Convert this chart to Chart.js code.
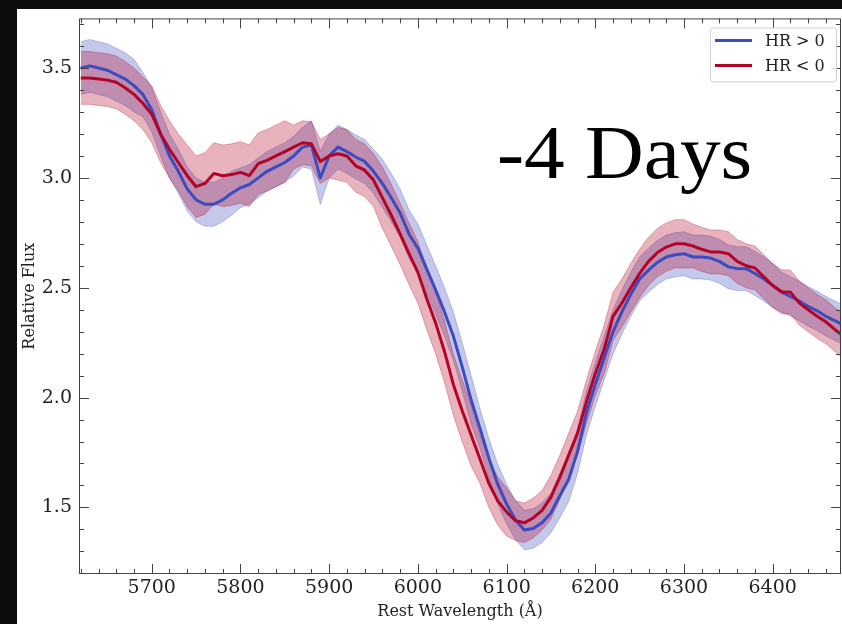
<!DOCTYPE html>
<html>
<head>
<meta charset="utf-8">
<script src="https://cdn.jsdelivr.net/npm/chart.js@4.4.1/dist/chart.umd.min.js"></script>
<style>
  html, body { margin: 0; padding: 0; background: #0c0c0c; }
  #wrap { position: relative; width: 842px; height: 624px; }
</style>
</head>
<body>
<div id="wrap"><canvas id="spec"></canvas></div>
<script>
const wavelength = [
  5620,5630,5640,5650,5660,5670,5680,5690,5700,5710,
  5720,5730,5740,5750,5760,5770,5780,5790,5800,5810,
  5820,5830,5840,5850,5860,5870,5880,5890,5900,5910,
  5920,5930,5940,5950,5960,5970,5980,5990,6000,6010,
  6020,6030,6040,6050,6060,6070,6080,6090,6100,6110,
  6120,6130,6140,6150,6160,6170,6180,6190,6200,6210,
  6220,6230,6240,6250,6260,6270,6280,6290,6300,6310,
  6320,6330,6340,6350,6360,6370,6380,6390,6400,6410,
  6420,6430,6440,6450,6460,6470,6480
];

// HR > 0 : mean spectrum and its band
const hrPosMean = [
  3.50,3.51,3.50,3.49,3.47,3.45,3.42,3.38,3.31,3.20,
  3.10,3.03,2.95,2.90,2.88,2.88,2.90,2.93,2.955,2.97,
  3.00,3.03,3.05,3.07,3.10,3.14,3.15,3.00,3.10,3.14,
  3.12,3.095,3.075,3.03,2.975,2.91,2.84,2.745,2.68,2.585,
  2.49,2.39,2.28,2.14,1.99,1.86,1.725,1.606,1.516,1.443,
  1.397,1.404,1.43,1.475,1.553,1.627,1.755,1.93,2.06,2.18,
  2.30,2.39,2.47,2.54,2.58,2.615,2.64,2.65,2.655,2.64,
  2.64,2.635,2.62,2.595,2.587,2.587,2.565,2.54,2.51,2.48,
  2.46,2.44,2.415,2.395,2.37,2.35,2.33
];
const hrPosUpper = [
  3.62,3.63,3.62,3.61,3.59,3.57,3.54,3.48,3.41,3.30,
  3.20,3.13,3.05,3.00,2.98,2.98,3.00,3.03,3.045,3.06,
  3.09,3.12,3.14,3.16,3.19,3.23,3.26,3.12,3.20,3.24,
  3.22,3.195,3.175,3.13,3.085,3.02,2.95,2.855,2.79,2.695,
  2.60,2.50,2.39,2.25,2.10,1.95,1.815,1.696,1.606,1.533,
  1.487,1.494,1.52,1.565,1.653,1.727,1.855,2.03,2.16,2.28,
  2.40,2.49,2.57,2.64,2.68,2.715,2.74,2.75,2.755,2.74,
  2.74,2.735,2.72,2.695,2.687,2.687,2.665,2.64,2.61,2.57,
  2.55,2.53,2.505,2.485,2.46,2.44,2.42
];
const hrPosLower = [
  3.38,3.39,3.38,3.37,3.35,3.33,3.30,3.28,3.21,3.10,
  3.00,2.93,2.85,2.80,2.78,2.78,2.80,2.83,2.865,2.88,
  2.91,2.94,2.96,2.98,3.01,3.05,3.04,2.88,3.00,3.04,
  3.02,2.995,2.975,2.93,2.865,2.80,2.73,2.635,2.57,2.475,
  2.38,2.28,2.17,2.03,1.88,1.77,1.635,1.516,1.426,1.353,
  1.307,1.314,1.34,1.385,1.453,1.527,1.655,1.83,1.96,2.08,
  2.20,2.29,2.37,2.44,2.48,2.515,2.54,2.55,2.555,2.54,
  2.54,2.535,2.52,2.495,2.487,2.487,2.465,2.44,2.41,2.39,
  2.37,2.35,2.325,2.305,2.28,2.26,2.24
];

// HR < 0 : mean spectrum and its band
const hrNegMean = [
  3.455,3.455,3.45,3.445,3.435,3.41,3.38,3.34,3.29,3.20,
  3.13,3.07,3.01,2.96,2.975,3.02,3.01,3.015,3.025,3.01,
  3.065,3.08,3.10,3.12,3.14,3.16,3.155,3.075,3.10,3.11,
  3.10,3.055,3.035,2.99,2.91,2.83,2.745,2.655,2.57,2.45,
  2.34,2.21,2.06,1.94,1.83,1.72,1.61,1.53,1.48,1.44,
  1.43,1.452,1.487,1.547,1.637,1.738,1.838,1.98,2.11,2.22,
  2.37,2.43,2.50,2.565,2.62,2.66,2.685,2.70,2.70,2.69,
  2.675,2.663,2.663,2.655,2.62,2.60,2.59,2.55,2.51,2.482,
  2.48,2.43,2.40,2.37,2.345,2.31,2.28
];
const hrNegUpper = [
  3.575,3.575,3.57,3.565,3.555,3.53,3.50,3.46,3.42,3.33,
  3.26,3.20,3.15,3.10,3.115,3.16,3.15,3.155,3.165,3.15,
  3.205,3.22,3.24,3.26,3.24,3.26,3.255,3.175,3.20,3.23,
  3.22,3.175,3.155,3.11,3.05,2.97,2.885,2.795,2.71,2.59,
  2.48,2.35,2.20,2.08,1.97,1.83,1.72,1.64,1.59,1.53,
  1.52,1.542,1.577,1.647,1.737,1.838,1.938,2.08,2.21,2.33,
  2.48,2.54,2.61,2.675,2.73,2.77,2.795,2.81,2.81,2.79,
  2.775,2.763,2.763,2.755,2.72,2.70,2.69,2.65,2.61,2.582,
  2.58,2.53,2.50,2.47,2.445,2.41,2.38
];
const hrNegLower = [
  3.335,3.335,3.33,3.325,3.315,3.29,3.26,3.22,3.16,3.07,
  3.00,2.94,2.87,2.82,2.835,2.88,2.87,2.875,2.885,2.87,
  2.925,2.94,2.96,2.98,3.04,3.06,3.055,2.975,3.00,2.99,
  2.98,2.935,2.915,2.87,2.77,2.69,2.605,2.515,2.43,2.31,
  2.20,2.07,1.92,1.80,1.69,1.61,1.50,1.42,1.37,1.35,
  1.34,1.362,1.397,1.447,1.537,1.638,1.738,1.88,2.01,2.11,
  2.26,2.32,2.39,2.455,2.51,2.55,2.575,2.59,2.59,2.59,
  2.575,2.563,2.563,2.555,2.52,2.50,2.49,2.45,2.41,2.382,
  2.38,2.33,2.30,2.27,2.245,2.21,2.18
];

const xTicks = [5700, 5800, 5900, 6000, 6100, 6200, 6300, 6400];
const yTicks = [1.5, 2.0, 2.5, 3.0, 3.5];

const BLUE = '#3b4cc0';
const RED = '#b40426';
const SERIF = '"DejaVu Serif", serif';

const pts = ys => wavelength.map((w, i) => ({ x: w, y: ys[i] }));

const paper = {
  id: 'paper',
  beforeDraw(chart) {
    const c = chart.ctx;
    c.save();
    c.fillStyle = '#0c0c0c';
    c.fillRect(0, 0, chart.width, chart.height);
    c.fillStyle = '#ffffff';
    c.fillRect(17, 9, chart.width - 17, chart.height - 9);
    c.restore();
  }
};

// inward ticks on all four sides plus the frame
const frameTicks = {
  id: 'frameTicks',
  afterDatasetsDraw(chart) {
    const { ctx: c, chartArea: a, scales: { x, y } } = chart;
    c.save();
    c.strokeStyle = '#444';
    c.lineWidth = 1;
    const seg = (x1, y1, x2, y2) => { c.beginPath(); c.moveTo(x1, y1); c.lineTo(x2, y2); c.stroke(); };
    const xt = (v, len) => {
      const p = Math.round(x.getPixelForValue(v)) + 0.5;
      seg(p, a.bottom, p, a.bottom - len);
      seg(p, a.top, p, a.top + len);
    };
    const yt = (v, len) => {
      const p = Math.round(y.getPixelForValue(v)) + 0.5;
      seg(a.left, p, a.left + len, p);
      seg(a.right, p, a.right - len, p);
    };
    for (let v = 5620; v < 6480; v += 20) {
      if (v % 100 !== 0) xt(v, 5);
    }
    xTicks.forEach(v => xt(v, 10));
    for (let i = 12; i <= 37; i++) {
      if (i % 5 !== 0) yt(i / 10, 5);
    }
    yTicks.forEach(v => yt(v, 10));
    c.strokeRect(a.left + 0.5, a.top + 0.5, a.width - 1, a.height - 1);
    c.restore();
  }
};

const legendAndTag = {
  id: 'legendAndTag',
  afterDraw(chart) {
    const c = chart.ctx;
    const a = chart.chartArea;
    c.save();
    // phase tag, widened a little to look like the TeX roman face
    c.save();
    c.translate(497, 178);
    c.scale(1.07, 1);
    c.fillStyle = '#000';
    c.font = '76px "Liberation Serif", serif';
    c.textBaseline = 'alphabetic';
    c.fillText('-4 Days', 0, 0);
    c.restore();

    // legend box
    const bx = a.right - 131, by = a.top + 9, bw = 126, bh = 54;
    c.beginPath();
    c.roundRect(bx + 0.5, by + 0.5, bw, bh, 3);
    c.fillStyle = 'rgba(255,255,255,0.8)';
    c.fill();
    c.strokeStyle = '#d0d0d0';
    c.lineWidth = 1;
    c.stroke();
    const items = [chart.data.datasets[4], chart.data.datasets[5]];
    c.font = '16px ' + SERIF;
    c.textBaseline = 'middle';
    items.forEach((ds, i) => {
      const ly = by + 13 + i * 25;
      c.strokeStyle = ds.borderColor;
      c.lineWidth = 3;
      c.beginPath();
      c.moveTo(bx + 5, ly);
      c.lineTo(bx + 42, ly);
      c.stroke();
      c.fillStyle = '#222';
      c.fillText(ds.label, bx + 55, ly + 1);
    });
    c.restore();
  }
};

new Chart(document.getElementById('spec'), {
  type: 'line',
  data: {
    datasets: [
      { label: 'band+', data: pts(hrPosUpper), fill: '+1', backgroundColor: 'rgba(59,76,192,0.3)',
        borderColor: 'rgba(59,76,192,0.3)', borderWidth: 1, pointRadius: 0, order: 3 },
      { label: 'band+lo', data: pts(hrPosLower), fill: false, borderColor: 'rgba(59,76,192,0.3)',
        borderWidth: 1, pointRadius: 0, order: 3 },
      { label: 'band-', data: pts(hrNegUpper), fill: '+1', backgroundColor: 'rgba(180,4,38,0.3)',
        borderColor: 'rgba(180,4,38,0.3)', borderWidth: 1, pointRadius: 0, order: 2 },
      { label: 'band-lo', data: pts(hrNegLower), fill: false, borderColor: 'rgba(180,4,38,0.3)',
        borderWidth: 1, pointRadius: 0, order: 2 },
      { label: 'HR > 0', data: pts(hrPosMean), borderColor: BLUE, borderWidth: 3,
        pointRadius: 0, fill: false, order: 1 },
      { label: 'HR < 0', data: pts(hrNegMean), borderColor: RED, borderWidth: 3,
        pointRadius: 0, fill: false, order: 0 }
    ]
  },
  options: {
    responsive: true,
    maintainAspectRatio: false,
    animation: false,
    devicePixelRatio: 1,
    layout: { padding: { left: 0, right: 1, top: 15, bottom: 0 } },
    plugins: { legend: { display: false }, tooltip: { enabled: false } },
    elements: { line: { tension: 0, borderJoinStyle: 'round' } },
    scales: {
      x: {
        type: 'linear',
        min: 5618,
        max: 6477,
        grid: { display: false, drawTicks: false },
        border: { display: false },
        afterBuildTicks: s => { s.ticks = xTicks.map(v => ({ value: v })); },
        afterFit: s => { s.height = 50; },
        ticks: { color: '#222', padding: 3, maxRotation: 0, font: { family: SERIF, size: 19 },
                 callback: v => String(v) },
        title: { display: true, text: 'Rest Wavelength (Å)', color: '#222',
                 font: { family: SERIF, size: 16 }, padding: { top: 0, bottom: 3 } }
      },
      y: {
        min: 1.197,
        max: 3.726,
        grid: { display: false, drawTicks: false },
        border: { display: false },
        afterBuildTicks: s => { s.ticks = yTicks.map(v => ({ value: v })); },
        afterFit: s => { s.width = 79; },
        ticks: { color: '#222', padding: 7, font: { family: SERIF, size: 19 },
                 callback: v => v.toFixed(1) },
        title: { display: true, text: 'Relative Flux', color: '#222',
                 font: { family: SERIF, size: 16 }, padding: { top: 20, bottom: 0 } }
      }
    }
  },
  plugins: [paper, frameTicks, legendAndTag]
});
</script>
</body>
</html>
